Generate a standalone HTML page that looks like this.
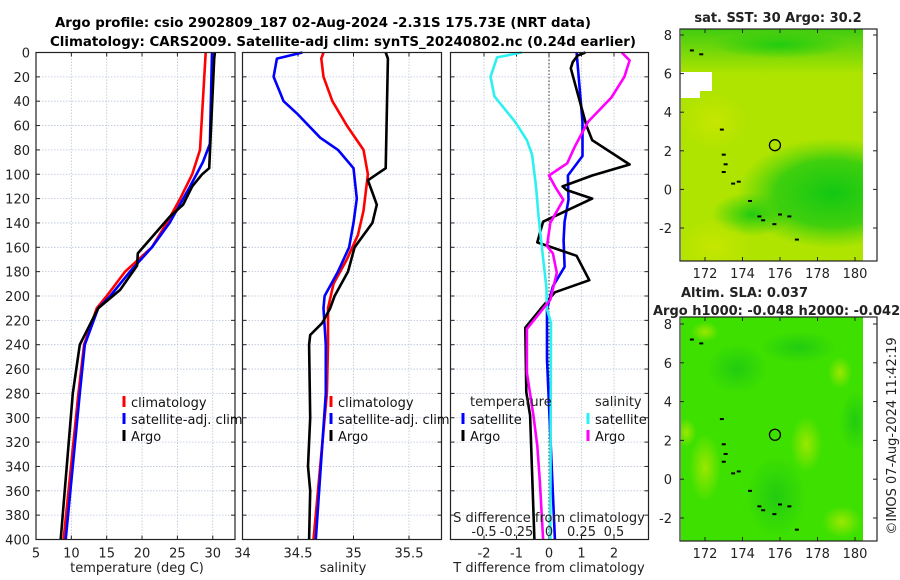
<!DOCTYPE html>
<html><head><meta charset="utf-8"><style>
body{margin:0;background:#fff}
svg{display:block;font-family:"DejaVu Sans","Liberation Sans",sans-serif}
</style></head><body>
<svg id="fig" width="900" height="580" viewBox="0 0 900 580" xmlns="http://www.w3.org/2000/svg">
<defs>
<radialGradient id="g1" cx="0.5" cy="0.5" r="0.5"><stop offset="0" stop-color="#12c812"/><stop offset="0.6" stop-color="#2ccc10" stop-opacity="0.85"/><stop offset="1" stop-color="#4ad00a" stop-opacity="0"/></radialGradient>
<radialGradient id="g2" cx="0.5" cy="0.5" r="0.5"><stop offset="0" stop-color="#c6e600"/><stop offset="1" stop-color="#c6e600" stop-opacity="0"/></radialGradient>
<radialGradient id="g3" cx="0.5" cy="0.5" r="0.5"><stop offset="0" stop-color="#22cc10"/><stop offset="1" stop-color="#22cc10" stop-opacity="0"/></radialGradient>
<radialGradient id="g4" cx="0.5" cy="0.5" r="0.5"><stop offset="0" stop-color="#9ae800"/><stop offset="1" stop-color="#9ae800" stop-opacity="0"/></radialGradient>
<linearGradient id="gt" x1="0" y1="0" x2="0" y2="1"><stop offset="0" stop-color="#40cc10"/><stop offset="1" stop-color="#40cc10" stop-opacity="0"/></linearGradient>
</defs>
<g font-weight="bold" font-size="13" text-anchor="middle">
<text x="323" y="27" textLength="536" lengthAdjust="spacingAndGlyphs">Argo profile: csio 2902809_187 02-Aug-2024 -2.31S 175.73E (NRT data)</text>
<text x="343" y="46" textLength="586" lengthAdjust="spacingAndGlyphs">Climatology: CARS2009. Satellite-adj clim: synTS_20240802.nc (0.24d earlier)</text>
</g>
<g id="panels"></g>
<g id="maps"></g>
<text x="0" y="0" font-size="13" fill="#222" text-anchor="middle" transform="translate(896,436) rotate(-90)">©IMOS 07-Aug-2024 11:42:19</text>
</svg>
<script>
// ---------- data ----------
const depthTicks = [0,20,40,60,80,100,120,140,160,180,200,220,240,260,280,300,320,340,360,380,400];
const tempTicks = [5,10,15,20,25,30];
const salTicks = [34,34.5,35,35.5];
const salTickLabels = ["34","34.5","35","35.5"];
const diffTicks = [-2,-1,0,1,2];
const sdiffTicks = [-0.5,-0.25,0,0.25,0.5];
const sdiffLabels = ["-0.5","-0.25","0","0.25","0.5"];

const tempClimDepth = [0,80,100,120,140,160,180,200,210,240,280,400];
const tempClim      = [29.0,28.2,27.1,25.4,23.5,21.4,17.6,15.0,13.6,11.8,11.0,8.9];
const tempSatDepth  = [0,75,90,110,140,160,180,200,210,240,280,400];
const tempSat       = [29.9,29.6,28.6,26.8,23.9,21.4,18.3,15.5,13.8,11.9,11.2,9.2];
const tempArgoDepth = [0,5,95,100,110,125,135,165,175,195,210,240,280,400];
const tempArgo      = [30.3,30.2,29.5,28.5,27.1,25.8,23.9,19.4,19.3,16.9,13.8,11.2,10.2,8.5];

const salClimDepth = [0,5,20,40,60,80,100,130,150,170,190,210,240,280,400];
const salClim      = [34.73,34.71,34.73,34.81,34.94,35.09,35.13,35.09,35.04,34.94,34.82,34.77,34.77,34.76,34.64];
const salSatDepth  = [0,5,20,40,50,70,80,95,120,140,160,180,200,210,240,280,400];
const salSat       = [34.54,34.31,34.28,34.37,34.49,34.70,34.86,35.0,35.03,35.0,34.96,34.86,34.74,34.73,34.75,34.75,34.66];
const salArgoDepth = [0,5,95,105,115,125,140,160,180,200,210,222,232,240,300,340,360,400];
const salArgo      = [35.29,35.31,35.29,35.13,35.17,35.21,35.17,35.01,34.95,34.83,34.79,34.72,34.61,34.60,34.61,34.59,34.61,34.60];

const dTsatDepth = [0,57,85,101,121,139,154,176,192,211,252,400];
const dTsat      = [0.85,1.03,1.03,0.58,0.6,0.48,0.45,0.48,0.12,-0.06,-0.06,0.18];
const dTargoDepth = [0,2.5,8,13,60,72,92,101,110,113,120,139,156,167,187,197,211,226,279,298,400];
const dTargo      = [1.12,0.88,0.73,0.67,1.15,1.33,2.48,1.33,0.42,0.55,1.33,-0.18,-0.36,0.85,1.24,0.18,-0.27,-0.73,-0.7,-0.58,-0.45];
const dSsatDepth = [0,4,20,36,57,72,84,110,135,169,193,211,222,400];
const dSsat      = [-0.21,-0.40,-0.45,-0.42,-0.26,-0.17,-0.13,-0.10,-0.08,-0.045,-0.02,-0.015,0.015,0.01];
const dSargoDepth = [0,6.5,20,37,57,77,91,101,110,121,140,159,165,181,203,227,263,298,323,353,400];
const dSargo      = [0.56,0.62,0.58,0.48,0.30,0.20,0.14,0.0,0.045,0.11,0.01,-0.015,0.03,0.06,0.01,-0.17,-0.17,-0.12,-0.09,-0.07,-0.045];

const mapLonTicks = [172,174,176,178,180];
const mapLatTicks = [-2,0,2,4,6,8];
const argoLon = [175.73];
const argoLat = [-2.31+4.6]; // plotted marker position as shown on map
// ---------- helpers ----------
const NS="http://www.w3.org/2000/svg";
function mk(tag, attrs, parent){const e=document.createElementNS(NS,tag);for(const k in attrs)e.setAttribute(k,attrs[k]);parent.appendChild(e);return e;}
const TOP=52.5, BOT=539.5;
const yD = d => TOP + d*(BOT-TOP)/400;
const panels=document.getElementById('panels');

function panel(name, x0, x1, xs, ticks, labels, showDepth){
  const g=mk('g',{},panels);
  
  
  // grid
  depthTicks.forEach(d=>{ if(d>0&&d<400){const l=mk('line',{x1:x0,x2:x1,y1:yD(d),y2:yD(d),stroke:'#b8c4dc','stroke-width':0.8,'stroke-dasharray':'1.5 1.5'},g);
    
    }});
  ticks.forEach((t,i)=>{const x=xs(t); if(x>x0+1&&x<x1-1){const l=mk('line',{x1:x,x2:x,y1:TOP,y2:BOT,stroke:'#b8c4dc','stroke-width':0.8,'stroke-dasharray':'1.5 1.5'},g);
    
    }
    const tl=mk('text',{x:x,y:BOT+18,'font-size':13,fill:'#222','text-anchor':'middle'},g); tl.textContent=labels[i];
    
    
    mk('line',{x1:x,x2:x,y1:BOT,y2:BOT-4,stroke:'#222'},g); mk('line',{x1:x,x2:x,y1:TOP,y2:TOP+4,stroke:'#222'},g);
  });
  depthTicks.forEach(d=>{mk('line',{x1:x0,x2:x0+4,y1:yD(d),y2:yD(d),stroke:'#222'},g);mk('line',{x1:x1,x2:x1-4,y1:yD(d),y2:yD(d),stroke:'#222'},g);
    if(showDepth){const t=mk('text',{x:x0-6,y:yD(d)+5,'font-size':13,fill:'#222','text-anchor':'end'},g);t.textContent=d;
      
      }});
  return g;
}
function frame(g,x0,x1){const r=mk('rect',{x:x0,y:TOP,width:x1-x0,height:BOT-TOP,fill:'none',stroke:'#222','stroke-width':1.2},g);
  
  }
function line(g,xs,depths,vals,color,name){
  const pts=depths.map((d,i)=>xs(vals[i]).toFixed(1)+','+yD(d).toFixed(1)).join(' ');
  const p=mk('polyline',{points:pts,fill:'none',stroke:color,'stroke-width':2.6,'stroke-linejoin':'round'},g);
  
  
}
function txt(g,x,y,s,name,anchor,size){const t=mk('text',{x:x,y:y,'font-size':size||13,fill:'#222','text-anchor':anchor||'start'},g);t.textContent=s;
  
  return t;}
function legendEntry(g,x,y,color,label){
  const e=mk('g',{},g);
  
  
  mk('rect',{x:x-1.5,y:y-10,width:3,height:11,fill:color},e);
  const t=mk('text',{x:x+7,y:y+1,'font-size':13,fill:'#111'},e);t.textContent=label;
}
// panel 1: temperature
const xT = v => 36 + (v-5)*7.07;
const p1=panel('temperature-panel',36,235,xT,tempTicks,tempTicks.map(String),true);
line(p1,xT,tempClimDepth,tempClim,'#f00','climatology-temp-line');
line(p1,xT,tempSatDepth,tempSat,'#00f','satellite-temp-line');
line(p1,xT,tempArgoDepth,tempArgo,'#000','argo-temp-line');
frame(p1,36,235);
txt(p1,137,572,'temperature (deg C)','x-axis-title','middle');
legendEntry(p1,124,406,'#f00','climatology');
legendEntry(p1,124,423,'#00f','satellite-adj. clim');
legendEntry(p1,124,440,'#000','Argo');
// panel 2: salinity
const xS = v => 242.5 + (v-34)*111;
const p2=panel('salinity-panel',242.5,441.5,xS,salTicks,salTickLabels,false);
line(p2,xS,salClimDepth,salClim,'#f00','climatology-salinity-line');
line(p2,xS,salSatDepth,salSat,'#00f','satellite-salinity-line');
line(p2,xS,salArgoDepth,salArgo,'#000','argo-salinity-line');
frame(p2,242.5,441.5);
txt(p2,343,572,'salinity','x-axis-title','middle');
legendEntry(p2,331,406,'#f00','climatology');
legendEntry(p2,331,423,'#00f','satellite-adj. clim');
legendEntry(p2,331,440,'#000','Argo');
// panel 3: differences
const xD = v => 549 + v*32.5;
const xSD = v => xD(v*4);
const p3=panel('difference-panel',450.5,648.5,xD,diffTicks,diffTicks.map(String),false);
const zl=mk('line',{x1:xD(0),x2:xD(0),y1:TOP,y2:BOT,stroke:'#333','stroke-width':1,'stroke-dasharray':'1.5 2'},p3);


line(p3,xD,dTsatDepth,dTsat,'#00f','satellite-temp-diff-line');
line(p3,xD,dTargoDepth,dTargo,'#000','argo-temp-diff-line');
line(p3,xSD,dSsatDepth,dSsat,'#2ef0f0','satellite-salinity-diff-line');
line(p3,xSD,dSargoDepth,dSargo,'#f0f','argo-salinity-diff-line');
frame(p3,450.5,648.5);
txt(p3,549,572,'T difference from climatology','x-axis-title','middle');
txt(p3,549,522,'S difference from climatology','s-axis-title','middle');
sdiffTicks.forEach((s,i)=>txt(p3,xSD(s),536,sdiffLabels[i],'s-tick-label','middle'));
txt(p3,470,406,'temperature','legend-title-temperature');
txt(p3,595,406,'salinity','legend-title-salinity');
legendEntry(p3,463,423,'#00f','satellite');
legendEntry(p3,463,440,'#000','Argo');
legendEntry(p3,588,423,'#2ef0f0','satellite');
legendEntry(p3,588,440,'#f0f','Argo');

// ---------- maps ----------
const maps=document.getElementById('maps');
const lonX = v => 705 + (v-172)*18.75;
function map(name, top, bot, lat8y, latm2y, fills, title, title2){
  const g=mk('g',{},maps);
  
  
  const latY = v => lat8y + (8-v)*(latm2y-lat8y)/10;
  const cp=mk('clipPath',{id:name+'-clip'},g);mk('rect',{x:681,y:top,width:182,height:bot-top},cp);
  const f=mk('g',{'clip-path':'url(#'+name+'-clip)'},g);
  fills(f,latY);
  // coastline bits
  [[171.3,7.2],[171.8,7.0],[172.9,3.1],[173.0,1.8],[173.1,1.3],[173.0,0.9],[173.5,0.3],[173.8,0.4],[174.4,-0.6],[174.9,-1.4],[175.1,-1.6],[175.7,-1.8],[176.0,-1.3],[176.5,-1.4],[176.9,-2.6]].forEach(p=>{
    const c=mk('rect',{x:lonX(p[0])-2,y:latY(p[1])-1,width:4,height:2,fill:'#000'},f);
    
    });
  const m=mk('circle',{cx:lonX(argoLon[0]),cy:latY(argoLat[0]),r:5.5,fill:'none',stroke:'#000','stroke-width':1.3},g);
  
  
  const r=mk('rect',{x:680,y:top,width:197,height:bot-top,fill:'none',stroke:'#222','stroke-width':1.2},g);
  
  
  mapLonTicks.forEach(v=>{const x=lonX(v);mk('line',{x1:x,x2:x,y1:bot,y2:bot-4,stroke:'#222'},g);mk('line',{x1:x,x2:x,y1:top,y2:top+4,stroke:'#222'},g);
    txt(g,x,bot+17,String(v),'lon-tick-label','middle');});
  mapLatTicks.forEach(v=>{const y=latY(v);mk('line',{x1:680,x2:684,y1:y,y2:y,stroke:'#222'},g);mk('line',{x1:877,x2:873,y1:y,y2:y,stroke:'#222'},g);
    txt(g,672,y+5,String(v),'lat-tick-label','end');});
  return g;
}
const m1=map('sst-map',29,261,35,228,(f,latY)=>{
  mk('rect',{x:680,y:29,width:190,height:240,fill:'#aee400'},f);
  mk('rect',{x:680,y:29,width:190,height:45,fill:'url(#gt)'},f);
  mk('ellipse',{cx:lonX(178.8),cy:latY(-0.2),rx:95,ry:55,fill:'url(#g1)'},f);
  mk('ellipse',{cx:lonX(174.5),cy:latY(-1.3),rx:40,ry:22,fill:'url(#g3)'},f);
  mk('ellipse',{cx:lonX(172.5),cy:latY(-3),rx:40,ry:30,fill:'url(#g2)'},f);
  mk('ellipse',{cx:lonX(172.5),cy:latY(3.5),rx:35,ry:30,fill:'url(#g2)'},f);
  mk('ellipse',{cx:lonX(176),cy:latY(7.5),rx:70,ry:14,fill:'url(#g3)'},f);
  const w=mk('path',{d:'M681 72 H712 V91 H700 V98 H681 Z',fill:'#fff'},f);
  
  
  mk('rect',{x:863,y:29,width:14,height:232,fill:'#fff'},f);
},'','');
txt(m1,778,22,'sat. SST: 30 Argo: 30.2','sst-map-title','middle').setAttribute('font-weight','bold');
const m2=map('sla-map',317,541,324,518,(f,latY)=>{
  mk('rect',{x:680,y:317,width:190,height:230,fill:'#3ee000'},f);
  [[173.7,5.7,30,25],[177,6.8,38,16],[175.8,-0.9,30,40],[180,3,15,30]].forEach(e=>mk('ellipse',{cx:lonX(e[0]),cy:latY(e[1]),rx:e[2],ry:e[3],fill:'url(#g3)'},f));
  [[172,0.6,16,34],[177.4,1.8,16,28],[179.3,-2.2,20,16],[171,2.4,10,14],[179.2,5.5,12,16],[172,7.6,14,10]].forEach(e=>mk('ellipse',{cx:lonX(e[0]),cy:latY(e[1]),rx:e[2],ry:e[3],fill:'url(#g4)'},f));
  mk('rect',{x:863,y:317,width:14,height:224,fill:'#fff'},f);
},'','');
txt(m2,681,297,'Altim. SLA: 0.037','sla-map-title','start').setAttribute('font-weight','bold');
txt(m2,653,315,'Argo h1000: -0.048 h2000: -0.042','sla-map-subtitle','start').setAttribute('font-weight','bold');
</script>
</body></html>
